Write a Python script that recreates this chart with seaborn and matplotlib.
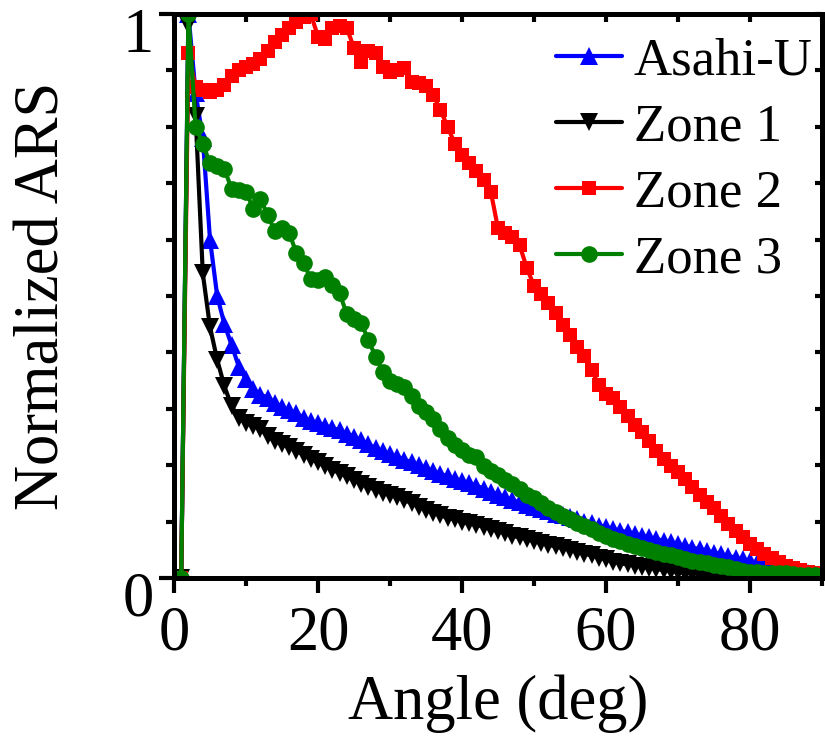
import numpy as np
import pandas as pd
import matplotlib
matplotlib.use("Agg")
import matplotlib.pyplot as plt
import matplotlib.transforms as mtransforms
from matplotlib.font_manager import FontProperties
import seaborn as sns

# ---------------- data ----------------
angle = list(range(0, 91))

asahi_u = [0, 0, 1.0, 0.86, 0.78, 0.60, 0.50, 0.45, 0.413, 0.375,
           0.352, 0.335, 0.325, 0.32, 0.31, 0.303, 0.297, 0.292, 0.284, 0.278,
           0.275, 0.27, 0.266, 0.262, 0.256, 0.25, 0.244, 0.237, 0.23, 0.225,
           0.22, 0.215, 0.21, 0.205, 0.20, 0.195, 0.19, 0.185, 0.18, 0.176,
           0.172, 0.168, 0.164, 0.158, 0.153, 0.148, 0.143, 0.138, 0.134, 0.13,
           0.126, 0.122, 0.118, 0.114, 0.111, 0.108, 0.104, 0.10, 0.097, 0.093,
           0.09, 0.087, 0.084, 0.081, 0.078, 0.075, 0.072, 0.069, 0.066, 0.063,
           0.06, 0.057, 0.054, 0.051, 0.048, 0.045, 0.042, 0.039, 0.036, 0.033,
           0.03, 0.027, 0.024, 0.021, 0.018, 0.015, 0.012, 0.01, 0.008, 0.006,
           0.005]

zone1 = [0, 0, 0.98, 0.82, 0.54, 0.445, 0.387, 0.34, 0.305, 0.283,
         0.275, 0.27, 0.264, 0.252, 0.243, 0.237, 0.232, 0.226, 0.218, 0.211,
         0.205, 0.198, 0.192, 0.186, 0.18, 0.173, 0.167, 0.162, 0.156, 0.151,
         0.147, 0.143, 0.138, 0.133, 0.126, 0.12, 0.116, 0.111, 0.107, 0.104,
         0.10, 0.097, 0.094, 0.091, 0.087, 0.083, 0.079, 0.075, 0.072, 0.069,
         0.065, 0.062, 0.059, 0.056, 0.053, 0.05, 0.046, 0.043, 0.04, 0.036,
         0.033, 0.029, 0.026, 0.024, 0.022, 0.02, 0.018, 0.016, 0.014, 0.012,
         0.011, 0.009, 0.008, 0.007, 0.006, 0.005, 0.004, 0.004, 0.003, 0.003,
         0.002, 0.002, 0.002, 0.001, 0.001, 0.001, 0.001, 0.0, 0.0, 0.0,
         0.0]

zone2 = [0, 0, 0.93, 0.87, 0.866, 0.862, 0.866, 0.875, 0.89, 0.90,
         0.906, 0.912, 0.92, 0.935, 0.95, 0.962, 0.975, 0.985, 0.995, 1.0,
         0.96, 0.955, 0.975, 0.978, 0.975, 0.94, 0.915, 0.935, 0.93, 0.906,
         0.897, 0.90, 0.904, 0.88, 0.878, 0.872, 0.856, 0.83, 0.80, 0.77,
         0.75, 0.735, 0.722, 0.705, 0.685, 0.62, 0.612, 0.605, 0.59, 0.55,
         0.518, 0.503, 0.487, 0.469, 0.449, 0.431, 0.41, 0.393, 0.368, 0.343,
         0.326, 0.32, 0.303, 0.288, 0.271, 0.259, 0.243, 0.225, 0.211, 0.198,
         0.188, 0.176, 0.162, 0.147, 0.135, 0.124, 0.11, 0.096, 0.084, 0.073,
         0.061, 0.052, 0.043, 0.035, 0.028, 0.022, 0.018, 0.015, 0.011, 0.008,
         0.005]

zone3 = [0, 0, 1.0, 0.80, 0.77, 0.735, 0.73, 0.725, 0.69, 0.688,
         0.685, 0.655, 0.672, 0.644, 0.615, 0.62, 0.612, 0.576, 0.558, 0.53,
         0.528, 0.534, 0.52, 0.505, 0.468, 0.46, 0.452, 0.422, 0.392, 0.365,
         0.35, 0.344, 0.339, 0.322, 0.305, 0.294, 0.282, 0.265, 0.248, 0.236,
         0.227, 0.218, 0.214, 0.199, 0.19, 0.182, 0.174, 0.167, 0.158, 0.148,
         0.141, 0.133, 0.125, 0.117, 0.11, 0.104, 0.098, 0.092, 0.086, 0.08,
         0.075, 0.07, 0.065, 0.061, 0.057, 0.053, 0.05, 0.046, 0.043, 0.04,
         0.037, 0.034, 0.031, 0.028, 0.026, 0.023, 0.021, 0.019, 0.016, 0.013,
         0.011, 0.01, 0.009, 0.009, 0.009, 0.008, 0.007, 0.006, 0.006, 0.005,
         0.005]

series_names = ["Asahi-U", "Zone 1", "Zone 2", "Zone 3"]
series_values = [asahi_u, zone1, zone2, zone3]
series_colors = ["#0000FF", "#000000", "#FF0000", "#008000"]
series_markers = ["^", "v", "s", "o"]
series_msize = [13, 13, 10.5, 12]

x_major = [0, 20, 40, 60, 80]
x_minor = [10, 30, 50, 70, 90]
y_major = [0, 1]
y_minor = [0.1, 0.2, 0.3, 0.4, 0.5, 0.6, 0.7, 0.8, 0.9]

# ---------------- style ----------------
sns.set_theme(style="ticks")
plt.rcParams["font.family"] = "serif"
plt.rcParams["font.serif"] = ["Liberation Serif", "DejaVu Serif"]

SERIF = "Liberation Serif"
fp_big = FontProperties(family=SERIF, size=45)
fp_leg = FontProperties(family=SERIF, size=38)

fig = plt.figure(figsize=(8.25, 7.4), dpi=100)
ax = fig.add_axes([174 / 825, 162 / 740, 648 / 825, 564 / 740])

for name, vals, col, mk, ms in zip(series_names, series_values, series_colors,
                                   series_markers, series_msize):
    df = pd.DataFrame({"angle": angle, "ars": vals})
    sns.lineplot(data=df, x="angle", y="ars", ax=ax, color=col, marker=mk,
                 markersize=ms, markeredgewidth=0, linewidth=3.0,
                 linestyle="-", label=name, sort=False)

ax.set_xlim(0, 90)
ax.set_ylim(0, 1)
ax.set_xticks(x_major)
ax.set_xticks(x_minor, minor=True)
ax.set_yticks(y_major)
ax.set_yticks(y_minor, minor=True)

ax.tick_params(axis="x", which="major", direction="out", length=10.5,
               width=3.0, color="black", pad=9)
ax.tick_params(axis="y", which="major", direction="out", length=10.5,
               width=3.0, color="black", pad=4)
ax.tick_params(axis="both", which="minor", direction="out", length=6,
               width=3.0, color="black")

ax.set_xticklabels([str(v) for v in x_major], fontproperties=fp_big, color="black")
ax.set_yticklabels(["0", "1"], fontproperties=fp_big, color="black")

for sp in ax.spines.values():
    sp.set_color("black")
    sp.set_linewidth(3.6)

# shift y tick labels downward like the reference
offset = mtransforms.ScaledTranslation(0, -0.16, fig.dpi_scale_trans)
for lbl in ax.get_yticklabels():
    lbl.set_transform(lbl.get_transform() + offset)

# mirrored inward ticks on top and right
secx = ax.secondary_xaxis("top")
secx.set_xticks(x_major + x_minor)
secx.tick_params(direction="in", length=6, width=3.0, labeltop=False, color="black")
secx.spines["top"].set_linewidth(3.6)
secx.spines["top"].set_color("black")
secy = ax.secondary_yaxis("right")
secy.set_yticks(y_major + y_minor)
secy.tick_params(direction="in", length=5, width=3.0, labelright=False, color="black")
secy.spines["right"].set_linewidth(3.6)
secy.spines["right"].set_color("black")

ax.set_xlabel("Angle (deg)", fontproperties=fp_big, color="black", labelpad=8)
ax.set_ylabel("Normalized ARS", fontproperties=fp_big, color="black", labelpad=36)

leg = ax.legend(loc="upper left", bbox_to_anchor=(0.59, 0.958), frameon=False,
                prop=fp_leg, handlelength=1.25, handletextpad=0.22,
                labelspacing=0.34, borderpad=0, borderaxespad=0)
for t in leg.get_texts():
    t.set_color("black")

fig.savefig("out.png", dpi=100)
